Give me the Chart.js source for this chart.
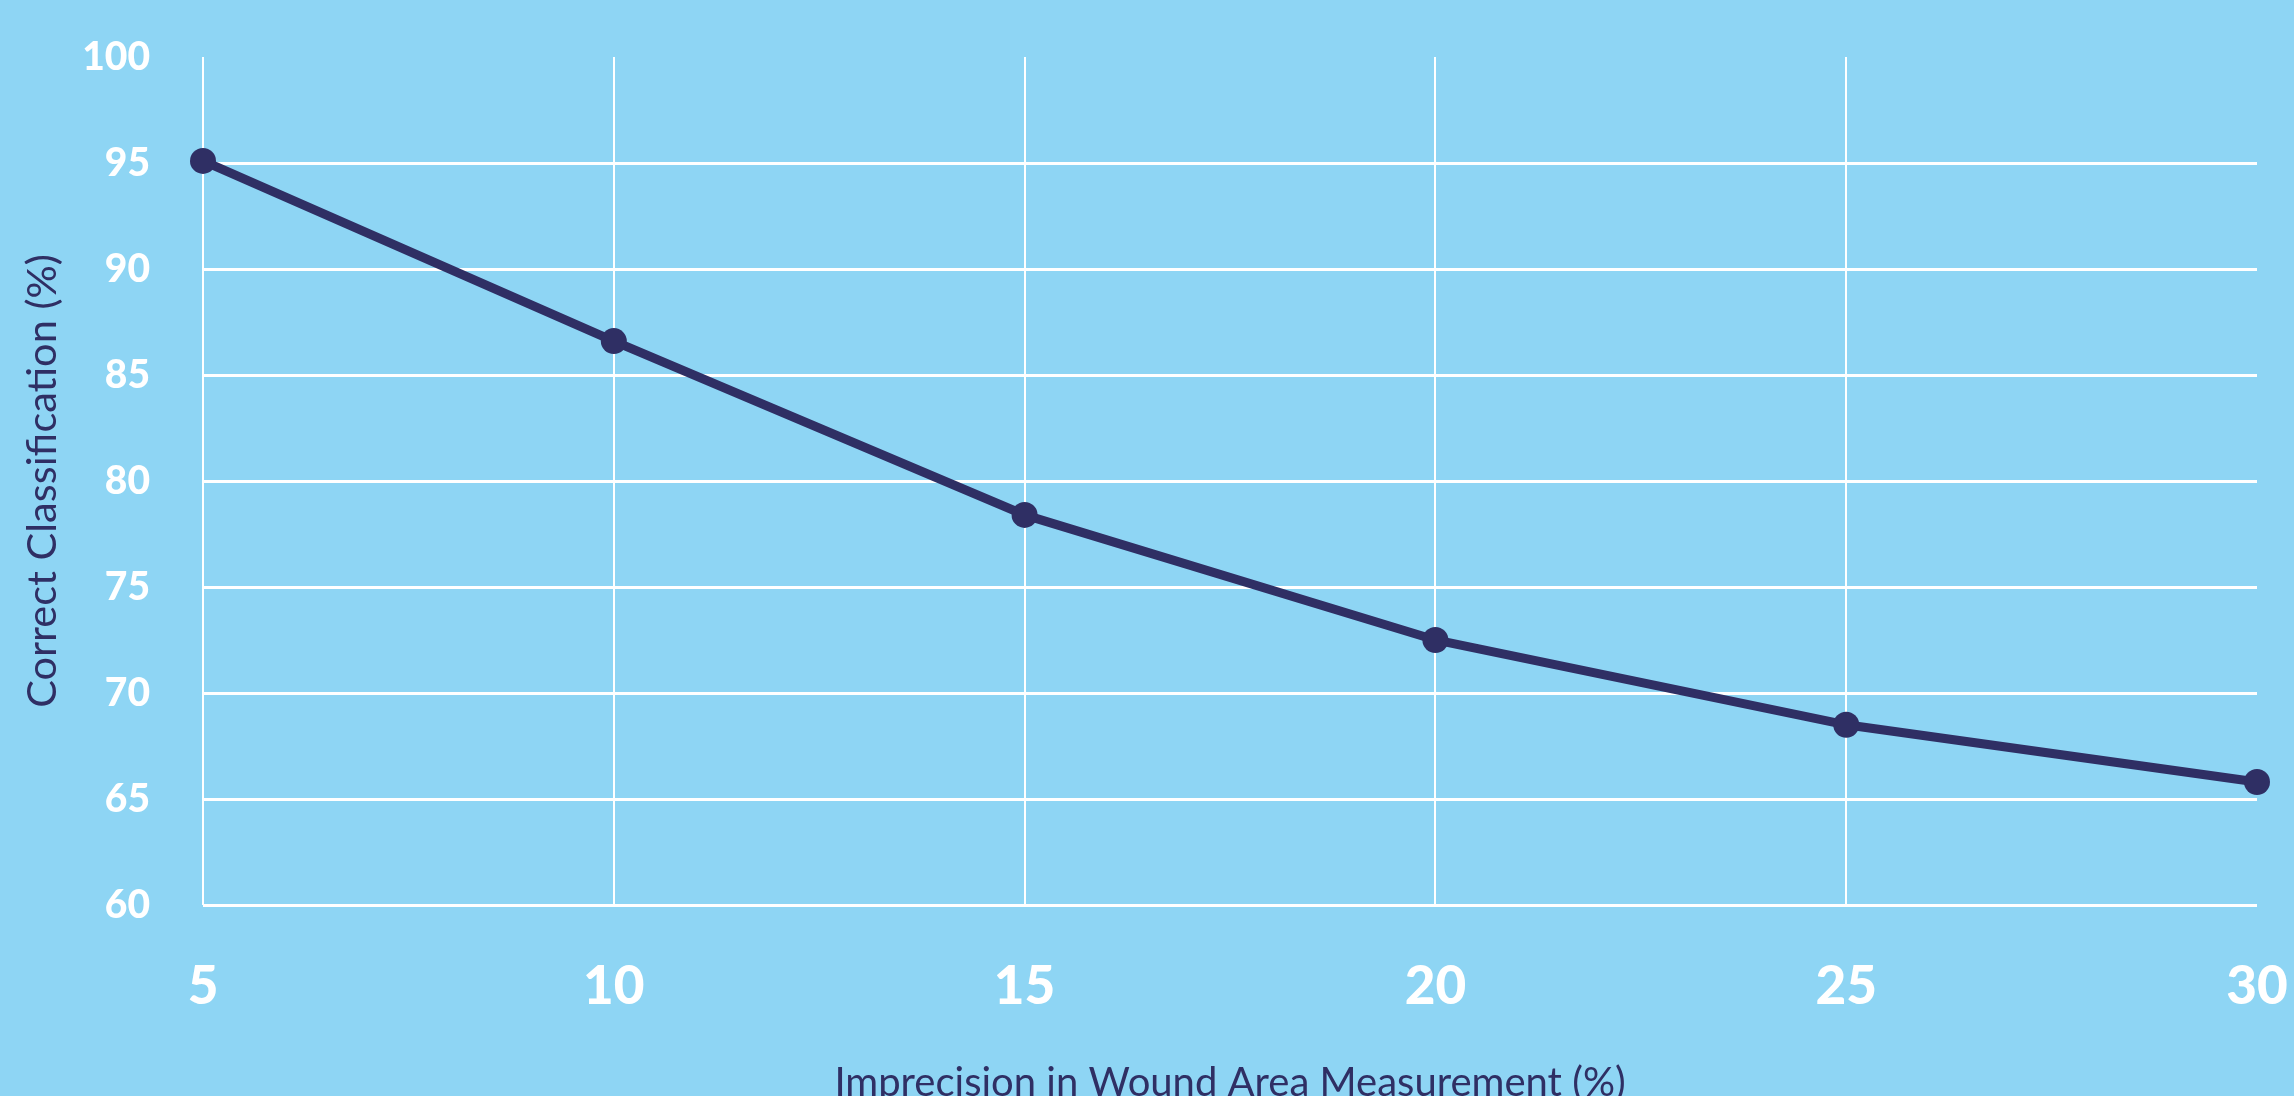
<!DOCTYPE html>
<html>
<head>
<meta charset="utf-8">
<script src="https://cdn.jsdelivr.net/npm/chart.js@4/dist/chart.umd.min.js"></script>
<style>
  html, body { margin: 0; padding: 0; background: #8ED5F4; overflow: hidden; }
  #wrap { width: 2294px; height: 1096px; }
</style>
</head>
<body>
<div id="wrap"><canvas id="chart" width="2294" height="1096"></canvas></div>
<script>
// Imprecision in wound area measurement (%) vs. correct classification (%)
const imprecision = [5, 10, 15, 20, 25, 30];
const correctClassification = [95.1, 86.6, 78.4, 72.5, 68.5, 65.8];
const yTicks = [60, 65, 70, 75, 80, 85, 90, 95, 100];

const xTitle = 'Imprecision in Wound Area Measurement (%)';
const yTitle = 'Correct Classification (%)';

const NAVY = '#2F2F64';
const BG = '#8ED5F4';

const bgPlugin = {
  id: 'bg',
  beforeDraw(chart) {
    const ctx = chart.ctx;
    ctx.save();
    ctx.fillStyle = BG;
    ctx.fillRect(0, 0, chart.width, chart.height);
    ctx.restore();
  }
};

new Chart(document.getElementById('chart'), {
  type: 'line',
  data: {
    datasets: [{
      data: imprecision.map((x, i) => ({ x, y: correctClassification[i] })),
      borderColor: NAVY,
      backgroundColor: NAVY,
      borderWidth: 9,
      pointRadius: 13,
      pointHoverRadius: 13,
      pointBackgroundColor: NAVY,
      pointBorderWidth: 0,
      tension: 0,
      clip: false
    }]
  },
  plugins: [bgPlugin],
  options: {
    responsive: false,
    animation: false,
    events: [],
    layout: { padding: { top: 57, right: 37, left: 0, bottom: 0 } },
    plugins: { legend: { display: false }, tooltip: { enabled: false } },
    scales: {
      x: {
        type: 'linear',
        min: 5,
        max: 30,
        afterBuildTicks(scale) { scale.ticks = imprecision.map(v => ({ value: v })); },
        afterFit(scale) {
          scale.height = 191;
          scale.paddingLeft = 0;
          scale.paddingRight = 0;
        },
        border: { display: false },
        grid: {
          drawTicks: false,
          lineWidth: 2,
          color: ctx => (ctx.tick && ctx.tick.value === 30) ? 'rgba(0,0,0,0)' : '#FFFFFF'
        },
        ticks: {
          padding: 50,
          color: '#FFFFFF',
          font: { family: 'Lato', weight: 900, size: 53 },
          maxRotation: 0,
          autoSkip: false
        },
        title: {
          display: true,
          text: xTitle,
          color: NAVY,
          font: { family: 'Lato', size: 40 },
          padding: { top: 0, bottom: -11 }
        }
      },
      y: {
        type: 'linear',
        min: 60,
        max: 100,
        afterBuildTicks(scale) { scale.ticks = yTicks.map(v => ({ value: v })); },
        afterFit(scale) {
          scale.width = 203;
          scale.paddingTop = 0;
          scale.paddingBottom = 0;
        },
        border: { display: false },
        grid: {
          drawTicks: false,
          lineWidth: 3,
          color: ctx => (ctx.tick && ctx.tick.value === 100) ? 'rgba(0,0,0,0)' : '#FFFFFF'
        },
        ticks: {
          padding: 53,
          color: '#FFFFFF',
          font: { family: 'Lato', weight: 900, size: 39 }
        },
        title: {
          display: true,
          text: yTitle,
          color: NAVY,
          font: { family: 'Lato', size: 41.5 },
          padding: { top: 18, bottom: 0 }
        }
      }
    }
  }
});
</script>
</body>
</html>
